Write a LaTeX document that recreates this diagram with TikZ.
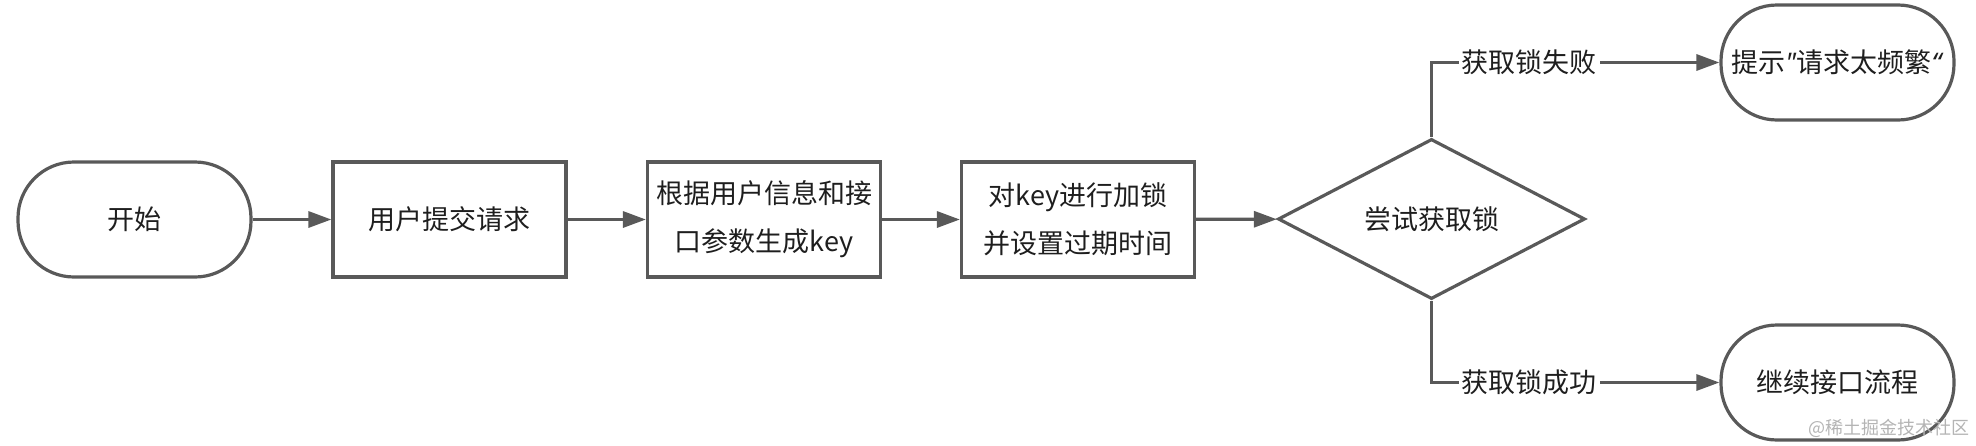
\documentclass[tikz,border=0pt]{standalone}
\usepackage{fontspec}
\newfontfamily\cjkfont{Noto Sans CJK SC}
\newfontfamily\quotefont{Noto Sans}
\usetikzlibrary{positioning, arrows.meta, shapes.geometric}
\definecolor{flowline}{RGB}{89, 89, 89}
\definecolor{flowtext}{RGB}{30, 30, 30}
\definecolor{markgray}{RGB}{180, 180, 180}

\begin{document}
\begin{tikzpicture}[x=0.5pt, y=-0.5pt,
    every node/.style={font=\cjkfont\fontsize{13.5}{24}\selectfont, text=flowtext},
    terminal/.style={draw=flowline, line width=1.6pt, rounded corners=28pt, minimum width=116.5pt, minimum height=57.5pt, align=center, inner sep=1pt},
    process/.style={draw=flowline, line width=1.6pt, minimum width=116.5pt, minimum height=57.5pt, align=center, inner sep=1pt},
    decision/.style={draw=flowline, line width=1.6pt, diamond, minimum width=153.5pt, minimum height=76pt, inner sep=0pt},
    flow/.style={draw=flowline, line width=1.6pt, -{Triangle[length=11.5pt, width=8pt]}},
    branch/.style={fill=white, inner sep=1.5pt}]
        \useasboundingbox (0,0) rectangle (1976,445);
        % main row
        \node[terminal] (start) at (134.5,219.5) {开始};
        \node[process] (submit) at (449.5,219.5) {用户提交请求};
        \node[process] (genkey) at (764,219.5) {根据用户信息和接\\口参数生成key};
        \node[process] (setlock) at (1078,219.5) {对key进行加锁\\并设置过期时间};
        \node[decision] (trylock) at (1431.5,219) {尝试获取锁};
        % outcomes
        \node[terminal] (fail) at (1837.5,62.5) {提示{\quotefont\textit{"}}请求太频繁{\quotefont\textit{“}}};
        \node[terminal] (pass) at (1837.5,382.5) {继续接口流程};
        \draw[flow] (start) -- (submit);
        \draw[flow] (submit) -- (genkey);
        \draw[flow] (genkey) -- (setlock);
        \draw[flow] (setlock) -- (trylock);
        \draw[flow] (trylock.north) |- node[branch, pos=0.67] {获取锁失败} (fail.west);
        \draw[flow] (trylock.south) |- node[branch, pos=0.67] {获取锁成功} (pass.west);
        \node[text=markgray, font=\cjkfont\fontsize{9}{10}\selectfont] (mark) at (1889,428) {@稀土掘金技术社区};
      \end{tikzpicture}
\end{document}
